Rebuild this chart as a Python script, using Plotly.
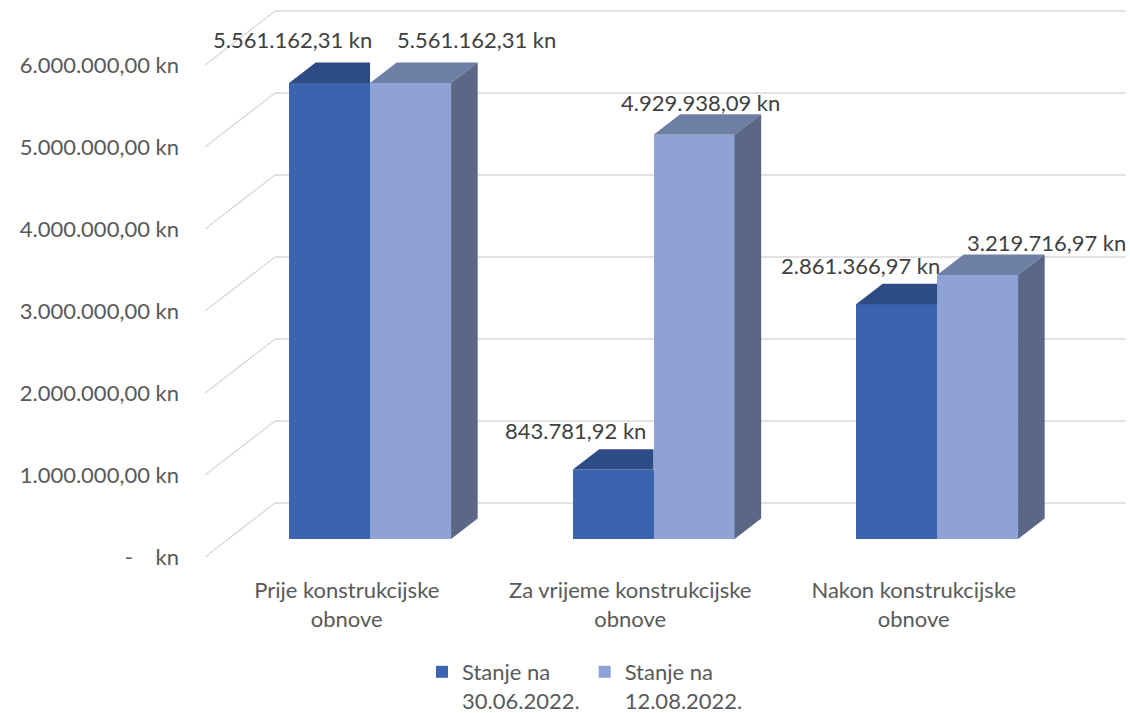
import plotly.graph_objects as go

# ---------------- data ----------------
categories = ["Prije konstrukcijske obnove",
              "Za vrijeme konstrukcijske obnove",
              "Nakon konstrukcijske obnove"]
series_names = ["Stanje na<br>30.06.2022.", "Stanje na<br>12.08.2022."]
values_30_06 = [5561162.31, 843781.92, 2861366.97]
values_12_08 = [5561162.31, 4929938.09, 3219716.97]
y_ticks = [0, 1000000, 2000000, 3000000, 4000000, 5000000, 6000000]

# ---------------- styling / geometry ----------------
W, H = 1130, 713
PLOT_L, PLOT_R = 205, 1130          # px
PLOT_T, PLOT_B = 5, 567             # px
SLOT_PX = 283.5                     # px per category slot
PX_PER_UNIT = 82e-6                 # px per kn
FRONT0_PX = 557                     # px of value 0 on front plane

x_min = -0.5
x_max = x_min + (PLOT_R - PLOT_L) / SLOT_PX
y_max = (FRONT0_PX - PLOT_T) / PX_PER_UNIT
y_min = -(PLOT_B - FRONT0_PX) / PX_PER_UNIT

DX = 70 / SLOT_PX                   # full depth in x units
DY = 54 / PX_PER_UNIT               # full depth in y units
F0 = 1 / 3                          # front of bars (fraction of depth)
FB = 0.38                           # bar depth (fraction of depth)
BAR_W = 1 / 3.5                     # bar width (gap width 150%)

FONT = "Lato"
FS = 22
AXIS_COLOR = "#595959"
LABEL_COLOR = "#404040"
GRID_COLOR = "#D9D9D9"
front_colors = ["#3A64AE", "#8FA2D6"]
top_colors = ["#2D4C86", "#6E7FA6"]
side_colors = ["#2A467C", "#5A6786"]

label_shift = [[(-37, 43), (-38, 39), (-36, 39)],
               [(66, 43), (6, 32), (69, 32)]]


def fmt_kn(v):
    s = f"{v:,.2f}"
    s = s.replace(",", "X").replace(".", ",").replace("X", ".")
    return s + " kn"


def fmt_tick(v):
    if v == 0:
        return "-\u00a0\u00a0\u00a0\u00a0kn"
    return fmt_kn(v)


def wrap(s):
    a, b = s.rsplit(" ", 1)
    return a + "<br>" + b


series = [values_30_06, values_12_08]
idx = list(range(len(categories)))
base0 = F0 * DY
bdx, bdy = FB * DX, FB * DY

fig = go.Figure()

# front faces
for si, vals in enumerate(series):
    fig.add_trace(go.Bar(
        x=[i + F0 * DX for i in idx], y=vals, base=[base0] * len(vals),
        width=BAR_W, offset=-BAR_W if si == 0 else 0,
        marker=dict(color=front_colors[si], line=dict(width=0)),
        name=series_names[si], hoverinfo="skip"))


def poly(xs, ys, color):
    fig.add_trace(go.Scatter(
        x=xs + [xs[0]], y=ys + [ys[0]], mode="lines", fill="toself",
        fillcolor=color, line=dict(width=0, color=color),
        showlegend=False, hoverinfo="skip"))


for i in idx:
    xc = i + F0 * DX
    vd, vl = values_30_06[i], values_12_08[i]
    # dark bar
    xl, xr = xc - BAR_W, xc
    td = base0 + vd
    if vd <= vl:
        poly([xl, xr, xr, xl + bdx], [td, td, td + bdy, td + bdy], top_colors[0])
    else:
        poly([xl, xr, xr + bdx, xl + bdx], [td, td, td + bdy, td + bdy], top_colors[0])
        poly([xr, xr, xr + bdx, xr + bdx], [base0 + vl, td, td + bdy, base0 + vl + bdy], side_colors[0])
    # light bar
    xl, xr = xc, xc + BAR_W
    tl = base0 + vl
    poly([xl, xr, xr + bdx, xl + bdx], [tl, tl, tl + bdy, tl + bdy], top_colors[1])
    poly([xr, xr, xr + bdx, xr + bdx], [base0, tl, tl + bdy, base0 + bdy], side_colors[1])

# gridlines (front diagonal + back wall)
shapes = []
for v in y_ticks:
    shapes.append(dict(type="line", xref="x", yref="y", layer="below",
                       x0=x_min, y0=v, x1=x_min + DX, y1=v + DY,
                       line=dict(color=GRID_COLOR, width=1.3)))
    shapes.append(dict(type="line", xref="x", yref="y", layer="below",
                       x0=x_min + DX, y0=v + DY, x1=len(categories) - 0.5 + DX, y1=v + DY,
                       line=dict(color=GRID_COLOR, width=1.3)))

# data labels
annotations = []
for si, vals in enumerate(series):
    for i in idx:
        xc = i + F0 * DX + (-BAR_W / 2 if si == 0 else BAR_W / 2)
        dxs, dys = label_shift[si][i]
        annotations.append(dict(
            x=xc, y=base0 + vals[i], xref="x", yref="y", text=fmt_kn(vals[i]),
            showarrow=False, xshift=dxs, yshift=dys,
            font=dict(family=FONT, size=FS, color=LABEL_COLOR)))

fig.update_layout(
    width=W, height=H,
    margin=dict(l=PLOT_L, r=W - PLOT_R, t=PLOT_T, b=H - PLOT_B),
    paper_bgcolor="white", plot_bgcolor="white",
    barmode="overlay", bargap=0,
    font=dict(family=FONT, size=FS, color=AXIS_COLOR),
    shapes=shapes, annotations=annotations,
    showlegend=True,
    legend=dict(orientation="h", xref="container", yref="container",
                x=422 / W, y=1 - 651 / H, xanchor="left", yanchor="top",
                valign="top", font=dict(family=FONT, size=FS, color=AXIS_COLOR),
                itemwidth=30, traceorder="normal"),
    xaxis=dict(range=[x_min, x_max], tickvals=idx,
               ticktext=[wrap(c) for c in categories],
               showgrid=False, zeroline=False, showline=False, ticks="",
               ticklabelstandoff=8, fixedrange=True),
    yaxis=dict(range=[y_min, y_max], tickvals=y_ticks,
               ticktext=[fmt_tick(v) for v in y_ticks],
               showgrid=False, zeroline=False, showline=False, ticks="",
               ticklabelstandoff=25, fixedrange=True),
)

fig.write_html("out.html", config={"displayModeBar": False},
               post_script="document.body.style.margin='0';")
